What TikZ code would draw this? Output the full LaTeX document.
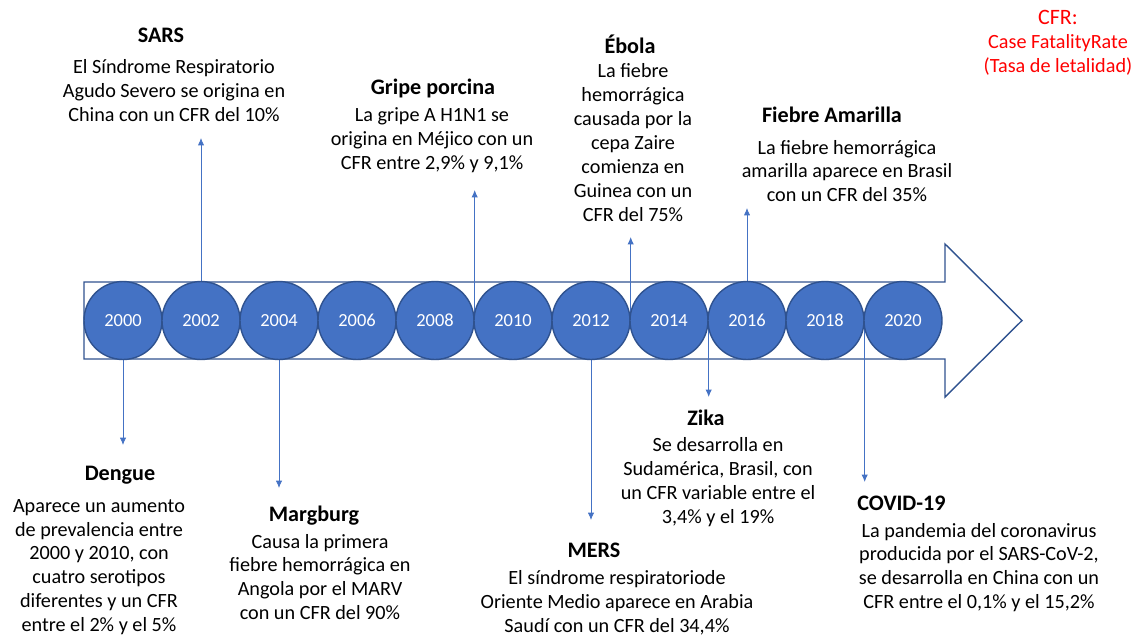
\documentclass[tikz,border=0pt]{standalone}
\usepackage{fontspec}
\setmainfont{Carlito}
\usetikzlibrary{backgrounds,arrows.meta}
\definecolor{circblue}{HTML}{4472C4}
\definecolor{edgeblue}{HTML}{2F528F}
\definecolor{cfrred}{HTML}{FF0000}

\begin{document}
\begin{tikzpicture}[x=0.02cm,y=-0.02cm,>={Latex[length=4.2pt,width=3.6pt]},line join=round,
	year/.style={circle,fill=circblue,draw=edgeblue,line width=0.8pt,minimum size=1.56cm,inner sep=0pt,text=white,font=\fontsize{10.5}{12}\selectfont},
	evtitle/.style={inner sep=0pt,font=\fontsize{12.6}{15}\selectfont\bfseries},
	evbody/.style={align=center,inner sep=0pt,font=\fontsize{11.5}{13.6}\selectfont},
	conn/.style={->,draw=circblue,fill=circblue,line width=0.45pt}]
	\useasboundingbox (0,0) rectangle (1144,637);
	% years on the timeline
	\foreach \i in {0,...,10}
	{\pgfmathtruncatemacro\yr{2000+2*\i}
		\node[year] (y\yr) at ({123+78*\i},320.5) {\yr};}
	% events above
	\node[evtitle] (sarsT) at (161,35) {SARS};
	\node[evbody] (sarsB) at (174,90.5) {El Síndrome Respiratorio\\Agudo Severo se origina en\\China con un CFR del 10\%};
	\node[evtitle] (gripeT) at (433,88) {Gripe porcina};
	\node[evbody] (gripeB) at (432,140) {La gripe A H1N1 se\\origina en Méjico con un\\CFR entre 2,9\% y 9,1\%};
	\node[evtitle] (ebolaT) at (630,44) {Ébola};
	\node[evbody] (ebolaB) at (633,142.5) {La fiebre\\hemorrágica\\causada por la\\cepa Zaire\\comienza en\\Guinea con un\\CFR del 75\%};
	\node[evtitle] (fiebreT) at (832,115) {Fiebre Amarilla};
	\node[evbody] (fiebreB) at (847,171) {La fiebre hemorrágica\\amarilla aparece en Brasil\\con un CFR del 35\%};
	% events below
	\node[evtitle] (dengueT) at (120,475) {Dengue};
	\node[evbody] (dengueB) at (99,567) {Aparece un aumento\\de prevalencia entre\\2000 y 2010, con\\cuatro serotipos\\diferentes y un CFR\\entre el 2\% y el 5\%};
	\node[evtitle] (margT) at (314,516) {Margburg};
	\node[evbody] (margB) at (320,577) {Causa la primera\\fiebre hemorrágica en\\Angola por el MARV\\con un CFR del 90\%};
	\node[evtitle] (mersT) at (594,550) {MERS};
	\node[evbody] (mersB) at (617,602.5) {El síndrome respiratoriode\\Oriente Medio aparece en Arabia\\Saudí con un CFR del 34,4\%};
	\node[evtitle] (zikaT) at (706,418) {Zika};
	\node[evbody] (zikaB) at (718,482) {Se desarrolla en\\Sudamérica, Brasil, con\\un CFR variable entre el\\3,4\% y el 19\%};
	\node[evtitle,anchor=west] (covidT) at (857,503) {COVID-19};
	\node[evbody] (covidB) at (979,567.5) {La pandemia del coronavirus\\producida por el SARS-CoV-2,\\se desarrolla en China con un\\CFR entre el 0,1\% y el 15,2\%};
	% legend
	\node[evbody,text=cfrred] (cfr) at (1058,42.5) {{\fontsize{12.5}{13.6}\selectfont CFR:}\\Case FatalityRate\\(Tasa de letalidad)};
	% arrow ends
	\coordinate (sarsTip) at (201,138);
	\coordinate (gripeTip) at (474,190);
	\coordinate (ebolaTip) at (630,237);
	\coordinate (fiebreTip) at (747,208);
	\coordinate (dengueTip) at (123,445);
	\coordinate (margTip) at (278,488);
	\coordinate (mersTip) at (591,520);
	\coordinate (zikaTip) at (708,397);
	\coordinate (covidTip) at (864,482);
	\begin{scope}[on background layer]
		\draw[edgeblue,line width=0.8pt] (84,282)--(945,282)--(945,244)--(1022,320.5)--(945,397)--(945,359)--(84,359)--cycle;
		\draw[conn] (y2002.north)--(y2002.north |- sarsTip);
		\draw[conn] (y2008.east)--(y2008.east |- gripeTip);
		\draw[conn] (y2012.east)--(y2012.east |- ebolaTip);
		\draw[conn] (y2016.north)--(y2016.north |- fiebreTip);
		\draw[conn] (y2000.south)--(y2000.south |- dengueTip);
		\draw[conn] (y2004.south)--(y2004.south |- margTip);
		\draw[conn] (y2012.south)--(y2012.south |- mersTip);
		\draw[conn] (y2014.east)--(y2014.east |- zikaTip);
		\draw[conn] (y2018.east)--(y2018.east |- covidTip);
	\end{scope}
\end{tikzpicture}
\end{document}
